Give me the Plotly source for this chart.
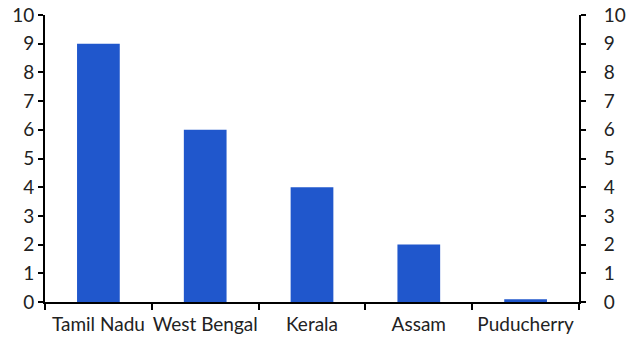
import plotly.graph_objects as go

states = ["Tamil Nadu", "West Bengal", "Kerala", "Assam", "Puducherry"]
values = [9, 6, 4, 2, 0.1]
y_ticks = list(range(0, 11))

font = dict(family="Lato, Open Sans, sans-serif", size=19, color="#222222")

fig = go.Figure()
fig.add_trace(go.Bar(x=states, y=values, marker_color="#2057CC", marker_line_width=0,
                     width=0.4, showlegend=False))
fig.add_trace(go.Scatter(x=states, y=values, yaxis="y2", mode="markers",
                         marker=dict(opacity=0), showlegend=False, hoverinfo="skip"))

axis_common = dict(range=[0, 10], tickvals=y_ticks, ticks="outside", ticklen=5, tickwidth=2,
                   tickcolor="black", showline=True, linecolor="black", linewidth=2,
                   showgrid=False, zeroline=False, tickfont=font, automargin=False)

fig.update_layout(
    width=632, height=357,
    margin=dict(l=45, r=53, t=15, b=55, autoexpand=False),
    plot_bgcolor="white", paper_bgcolor="white",
    font=font,
    xaxis=dict(ticks="outside", tickson="boundaries", ticklen=6, tickwidth=2, tickcolor="black",
               showline=True, linecolor="black", linewidth=2, showgrid=False, tickfont=font,
               automargin=False, ticklabelstandoff=4, tickangle=0),
    yaxis=dict(side="left", **axis_common),
    yaxis2=dict(side="right", overlaying="y", ticklabelstandoff=14, **axis_common),
    bargap=0.6,
)

# remove the default page margin so the figure fills the window exactly
fig.write_html("out.html", config={"displayModeBar": False},
               post_script="document.body.style.margin='0';")
